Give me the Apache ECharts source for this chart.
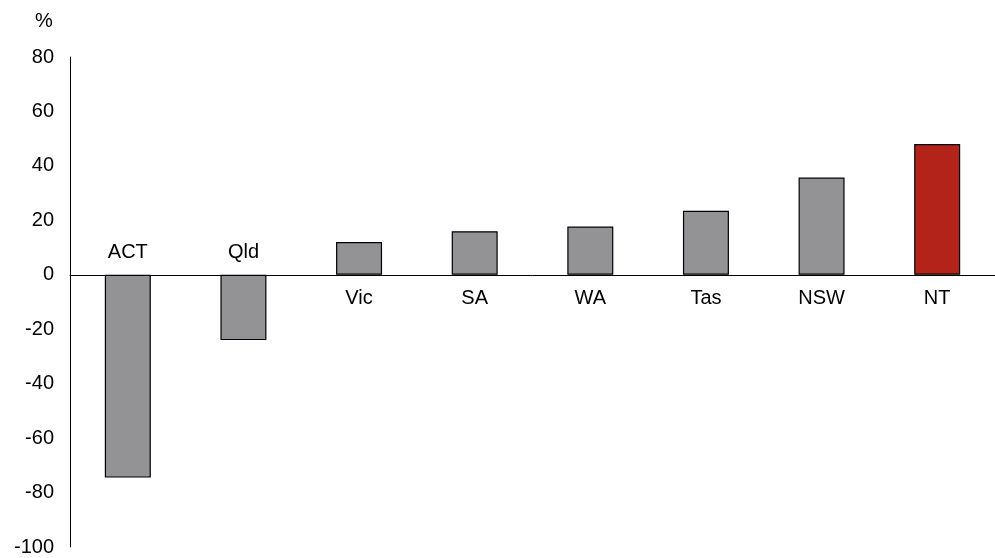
<!DOCTYPE html>
<html>
<head>
<meta charset="utf-8">
<script src="https://cdn.jsdelivr.net/npm/echarts@6/dist/echarts.min.js"></script>
<style>
  html, body { margin: 0; padding: 0; background: #fff; }
  #chart { width: 995px; height: 558px; }
</style>
</head>
<body>
<div id="chart"></div>
<script>
// states, ordered as in the chart
const categories = ['ACT', 'Qld', 'Vic', 'SA', 'WA', 'Tas', 'NSW', 'NT'];
const values = [-74.5, -24, 12, 16, 17.7, 23.5, 35.7, 48];
const highlight = 'NT';

const GREY = '#939396';
const RED = '#b32319';
const FONT = 'Liberation Sans, Arial, sans-serif';

const chart = echarts.init(document.getElementById('chart'));

const barData = values.map((v, i) => ({
  value: v,
  itemStyle: { color: categories[i] === highlight ? RED : GREY },
}));

// labels sit on the zero line: above for negative bars, below for positive ones
const labelData = values.map((v, i) => ({
  value: [categories[i], 0],
  label: v < 0 ? { position: 'top', distance: 12 } : { position: 'bottom', distance: 14 },
}));

chart.setOption({
  animation: false,
  textStyle: { fontFamily: FONT },
  grid: { left: 70, right: 0, top: 57, bottom: 11, containLabel: false },
  xAxis: {
    type: 'category',
    data: categories,
    axisLine: { onZero: true, lineStyle: { color: '#000', width: 1 } },
    axisTick: { show: false },
    axisLabel: { show: false },
  },
  yAxis: {
    type: 'value',
    min: -100,
    max: 80,
    interval: 20,
    name: '%',
    nameLocation: 'end',
    nameGap: 26,
    nameTextStyle: { color: '#000', fontSize: 20, align: 'center', padding: [0, 0, 0, -52] },
    axisLine: { show: true, lineStyle: { color: '#000', width: 1 } },
    axisTick: { show: false },
    splitLine: { show: false },
    axisLabel: { color: '#000', fontSize: 20, margin: 16 },
  },
  series: [
    {
      type: 'bar',
      data: barData,
      barWidth: 46,
      itemStyle: { borderColor: '#000', borderWidth: 1.2 },
      z: 2,
    },
    {
      type: 'scatter',
      data: labelData,
      symbolSize: 0,
      silent: true,
      itemStyle: { opacity: 1 },
      label: {
        show: true,
        formatter: (p) => p.value[0],
        color: '#000',
        fontSize: 20,
      },
      z: 3,
    },
  ],
});
</script>
</body>
</html>
